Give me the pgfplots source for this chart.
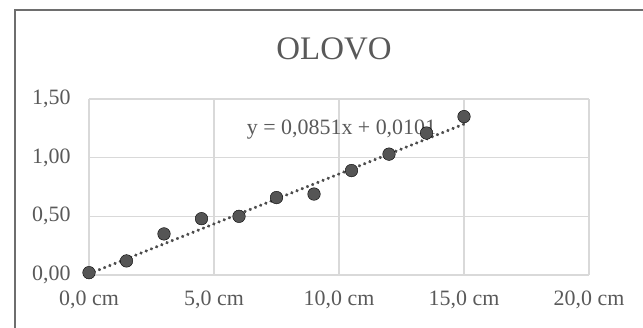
\documentclass[border=0pt]{standalone}
\usepackage{fontspec}
\setmainfont{Liberation Serif}
\usepackage{pgfplots}
\pgfplotsset{compat=1.18}
\definecolor{txt}{HTML}{595959}
\definecolor{grd}{HTML}{D9D9D9}
\definecolor{mrk}{HTML}{555555}
\definecolor{frm}{HTML}{6E6E6E}
\begin{document}
\begin{tikzpicture}[x=1bp,y=1bp]
\useasboundingbox (0,0) rectangle (643,327);
\draw[frm, line width=2bp] (15,-5) -- (15,317) -- (650,317);
\node[txt, font=\fontsize{33}{36}\selectfont, anchor=base] at (334,268) {OLOVO};
\begin{axis}[
  at={(89bp,52bp)}, anchor=south west,
  scale only axis, width=500bp, height=176bp,
  xmin=0, xmax=20, ymin=0, ymax=1.5,
  xtick={0,5,10,15,20},
  xticklabels={{0,0 cm},{5,0 cm},{10,0 cm},{15,0 cm},{20,0 cm}},
  ytick={0,0.5,1,1.5},
  yticklabels={{0,00},{0,50},{1,00},{1,50}},
  tick style={draw=none},
  axis line style={draw=none},
  grid=major,
  major grid style={grd, line width=1.5bp},
  ticklabel style={txt, font=\fontsize{22}{24}\selectfont},
  xticklabel style={yshift=-12bp},
  yticklabel style={xshift=-15bp},
  clip=false,
]
\addplot[txt!85!black, line width=3.4bp, line cap=round, dash pattern=on 0.1bp off 5.5bp]
  coordinates {(0,0.0101) (15,1.2866)};
\addplot[only marks, mark=*, mark size=6.3bp, mark options={fill=mrk, draw=none}]
  coordinates {
  (0,0.02) (1.5,0.12) (3,0.35) (4.5,0.48) (6,0.50) (7.5,0.66)
  (9,0.69) (10.5,0.89) (12,1.03) (13.5,1.21) (15,1.35)};
\node[txt, font=\fontsize{22}{24}\selectfont] at (axis cs:10.1,1.24) {y = 0,0851x + 0,0101};
\end{axis}
\end{tikzpicture}
\end{document}
